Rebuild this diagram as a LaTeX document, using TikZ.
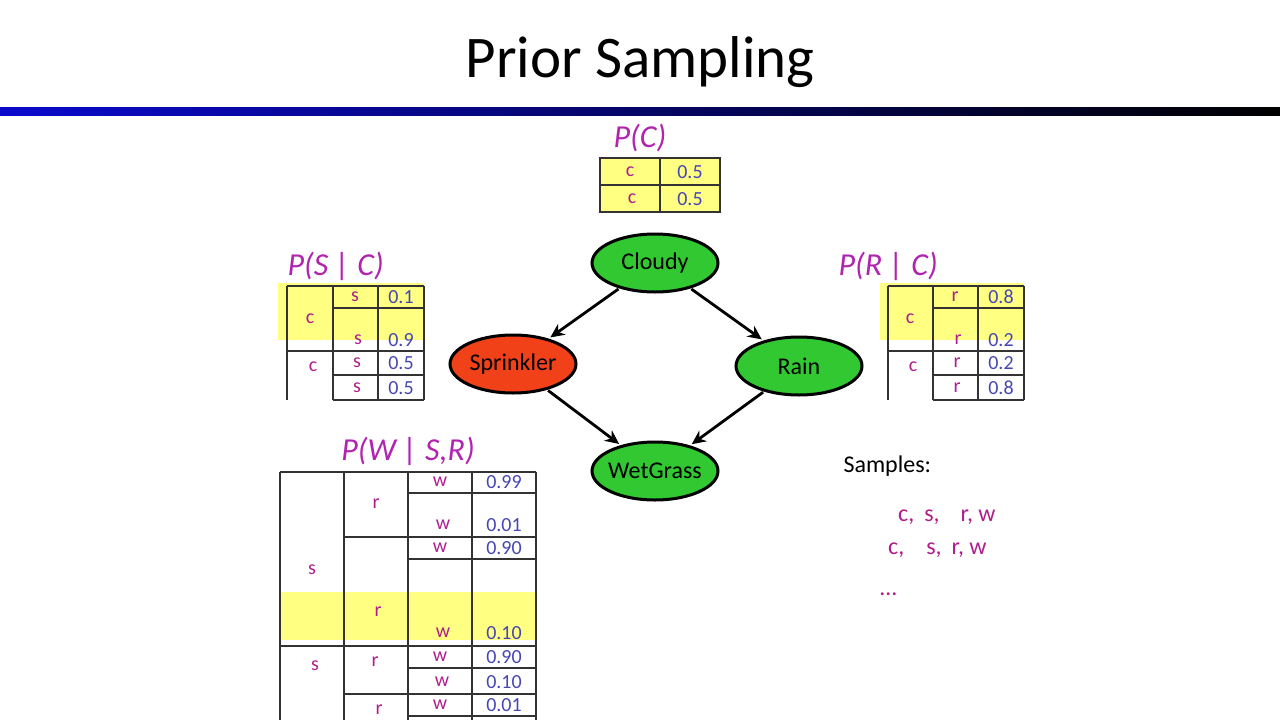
\documentclass[tikz,border=0pt]{standalone}
\usepackage{fontspec}
\setmainfont{Carlito}
\usepackage{tikz}
\usetikzlibrary{arrows.meta, shapes.geometric}

\definecolor{nodegreen}{RGB}{50,200,50}
\definecolor{nodered}{RGB}{240,65,25}
\definecolor{labmag}{RGB}{176,36,176}
\definecolor{varmag}{RGB}{176,30,140}
\definecolor{valblue}{RGB}{70,70,180}
\definecolor{hiyellow}{RGB}{255,255,130}
\definecolor{barblue}{RGB}{10,10,205}

\begin{document}
\begin{tikzpicture}[x=1pt, y=-1pt,
    main/.style = {draw, ellipse, line width=3pt, minimum width=126pt, minimum height=58pt, inner xsep=-5pt, inner ysep=0pt, font=\fontsize{24}{24}\selectfont},
    cpt/.style = {text=labmag, font=\fontsize{32}{32}\selectfont\itshape},
    var/.style = {text=varmag, font=\fontsize{20}{20}\selectfont, inner sep=0pt},
    val/.style = {text=valblue, font=\fontsize{20}{20}\selectfont, inner sep=0pt},
    tab/.style = {draw=black!80, line width=1.2pt},
    arr/.style = {-{Stealth[length=14pt, width=13pt]}, line width=2.8pt}]
    \useasboundingbox (0,0) rectangle (1280,720);

    % title and bar
    \node (title) at (640,62) {\fontsize{59}{59}\selectfont Prior Sampling};
    \shade[left color=barblue, right color=black] (0,107) rectangle (1280,115);

    % network
    \node[main, fill=nodegreen] (cloudy) at (655,263) {Cloudy};
    \node[main, fill=nodered] (sprinkler) at (513,364) {Sprinkler};
    \node[main, fill=nodegreen] (rain) at (799,366) {Rain};
    \node[main, fill=nodegreen] (wetgrass) at (655,471) {WetGrass};

    \draw[arr, shorten >=2pt, shorten <=1pt] (cloudy) -- (sprinkler);
    \draw[arr, shorten >=2pt, shorten <=1pt] (cloudy) -- (rain);
    \draw[arr, shorten >=2pt, shorten <=1pt] (sprinkler) -- (wetgrass);
    \draw[arr, shorten >=2pt, shorten <=1pt] (rain) -- (wetgrass);

    % P(C)
    \node[cpt] (pc) at (640,138) {P(C)};
    \filldraw[fill=hiyellow, tab] (600,158) rectangle (720,212);
    \draw[tab] (660,158) -- (660,212);
    \draw[tab] (600,185) -- (720,185);
    \node[var] (pc-c1) at (630,172) {c};
    \node[val] (pc-v1) at (690,172) {0.5};
    \node[var] (pc-c2) at (632,199) {c};
    \node[val] (pc-v2) at (690,199) {0.5};

    % P(S | C)
    \node[cpt, anchor=west] (psc) at (284,266) {P(S \textbar{} C)};
    \fill[hiyellow] (278,283) rectangle (424,340);
    \draw[tab] (287,286) -- (424,286);
    \draw[tab] (287,286) -- (287,400);
    \draw[tab] (333,286) -- (333,400);
    \draw[tab] (378,286) -- (378,400);
    \draw[tab] (424,286) -- (424,400);
    \draw[tab] (333,308) -- (424,308);
    \draw[tab] (287,351) -- (424,351);
    \draw[tab] (333,375) -- (424,375);
    \draw[tab] (333,400) -- (424,400);
    \node[var] (psc-c1) at (310,319) {c};
    \node[var] (psc-s1) at (355,297) {s};
    \node[val] (psc-v1) at (401,297) {0.1};
    \node[var] (psc-s2) at (358,340) {s};
    \node[val] (psc-v2) at (401,340) {0.9};
    \node[var] (psc-c2) at (313,367) {c};
    \node[var] (psc-s3) at (357,363) {s};
    \node[val] (psc-v3) at (401,363) {0.5};
    \node[var] (psc-s4) at (357,388) {s};
    \node[val] (psc-v4) at (401,388) {0.5};

    % P(R | C)
    \node[cpt, anchor=west] (prc) at (835,266) {P(R \textbar{} C)};
    \fill[hiyellow] (880,283) rectangle (1024,340);
    \draw[tab] (888,286) -- (1024,286);
    \draw[tab] (888,286) -- (888,400);
    \draw[tab] (933,286) -- (933,400);
    \draw[tab] (978,286) -- (978,400);
    \draw[tab] (1024,286) -- (1024,400);
    \draw[tab] (933,308) -- (1024,308);
    \draw[tab] (888,351) -- (1024,351);
    \draw[tab] (933,375) -- (1024,375);
    \draw[tab] (933,400) -- (1024,400);
    \node[var] (prc-c1) at (910,319) {c};
    \node[var] (prc-r1) at (955,297) {r};
    \node[val] (prc-v1) at (1001,297) {0.8};
    \node[var] (prc-r2) at (958,340) {r};
    \node[val] (prc-v2) at (1001,340) {0.2};
    \node[var] (prc-c2) at (913,367) {c};
    \node[var] (prc-r3) at (957,363) {r};
    \node[val] (prc-v3) at (1001,363) {0.2};
    \node[var] (prc-r4) at (957,388) {r};
    \node[val] (prc-v4) at (1001,388) {0.8};

    % P(W | S,R)
    \node[cpt] (pwsr) at (408,451) {P(W \textbar{} S,R)};
    \fill[hiyellow] (280,592) rectangle (536,640);
    \draw[tab] (280,472) -- (536,472);
    \draw[tab] (280,472) -- (280,720);
    \draw[tab] (344,472) -- (344,720);
    \draw[tab] (408,472) -- (408,720);
    \draw[tab] (472,472) -- (472,720);
    \draw[tab] (536,472) -- (536,720);
    \draw[tab] (408,493) -- (536,493);
    \draw[tab] (344,537) -- (536,537);
    \draw[tab] (408,559) -- (536,559);
    \draw[tab] (280,646) -- (536,646);
    \draw[tab] (408,668) -- (536,668);
    \draw[tab] (344,694) -- (536,694);
    \draw[tab] (408,716) -- (536,716);
    \node[var] (pw-s1) at (312,570) {s};
    \node[var] (pw-r1) at (376,504) {r};
    \node[var] (pw-r2) at (378,612) {r};
    \node[var] (pw-s2) at (315,666) {s};
    \node[var] (pw-r3) at (375,662) {r};
    \node[var] (pw-r4) at (379,710) {r};
    \node[var] (pw-w1) at (440,482) {w};
    \node[val] (pw-v1) at (504,482) {0.99};
    \node[var] (pw-w2) at (443,525) {w};
    \node[val] (pw-v2) at (504,525) {0.01};
    \node[var] (pw-w3) at (440,548) {w};
    \node[val] (pw-v3) at (504,548) {0.90};
    \node[var] (pw-w4) at (443,633) {w};
    \node[val] (pw-v4) at (504,633) {0.10};
    \node[var] (pw-w5) at (440,657) {w};
    \node[val] (pw-v5) at (504,657) {0.90};
    \node[var] (pw-w6) at (442,682) {w};
    \node[val] (pw-v6) at (504,682) {0.10};
    \node[var] (pw-w7) at (440,705) {w};
    \node[val] (pw-v7) at (504,705) {0.01};

    % samples
    \node[anchor=west, font=\fontsize{24}{24}\selectfont] (samples) at (840,466) {Samples:};
    \node[var, anchor=west, font=\fontsize{24}{24}\selectfont] (smp1) at (898,517) {c,\hspace{10pt}s,\hspace{21pt}r, w};
    \node[var, anchor=west, font=\fontsize{24}{24}\selectfont] (smp2) at (888,550) {c,\hspace{22pt}s,\hspace{10pt}r, w};
    \node[var, anchor=west, font=\fontsize{24}{24}\selectfont] (smp3) at (880,594) {\dots};
\end{tikzpicture}
\end{document}
